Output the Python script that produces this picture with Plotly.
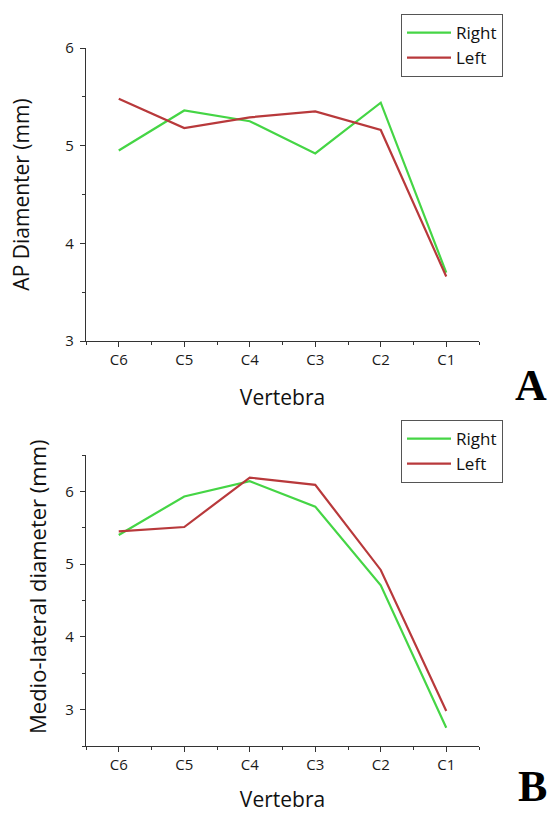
import plotly.graph_objects as go

vertebrae = ["C6", "C5", "C4", "C3", "C2", "C1"]
ap_right = [4.95, 5.36, 5.25, 4.92, 5.44, 3.70]
ap_left = [5.48, 5.18, 5.29, 5.35, 5.16, 3.66]
ml_right = [5.40, 5.93, 6.14, 5.79, 4.71, 2.75]
ml_left = [5.45, 5.51, 6.19, 6.09, 4.92, 2.98]

GREEN = "#45d545"
RED = "#b8393b"
FONT = "Open Sans"
W, H = 550, 813

xpos = list(range(len(vertebrae)))

def py(p):
    return 1 - p / H

fig = go.Figure()
fig.add_trace(go.Scatter(x=xpos, y=ap_right, mode="lines", name="Right",
                         line=dict(color=GREEN, width=2.2), xaxis="x", yaxis="y", legend="legend"))
fig.add_trace(go.Scatter(x=xpos, y=ap_left, mode="lines", name="Left",
                         line=dict(color=RED, width=2.2), xaxis="x", yaxis="y", legend="legend"))
fig.add_trace(go.Scatter(x=xpos, y=ml_right, mode="lines", name="Right",
                         line=dict(color=GREEN, width=2.2), xaxis="x2", yaxis="y2", legend="legend2"))
fig.add_trace(go.Scatter(x=xpos, y=ml_left, mode="lines", name="Left",
                         line=dict(color=RED, width=2.2), xaxis="x2", yaxis="y2", legend="legend2"))

xdom = [86 / W, 479 / W]
axis_common = dict(showline=True, linecolor="#333", linewidth=1.3, showgrid=False,
                   zeroline=False, ticks="outside", ticklen=5, tickwidth=1.2, tickcolor="#333",
                   automargin=False,
                   tickfont=dict(family=FONT, size=15, color="#1a1a1a"))

minor_x = dict(tickvals=[i - 0.5 for i in range(len(vertebrae) + 1)], ticks="outside",
               ticklen=3, tickwidth=1.2, tickcolor="#333", showgrid=False)

xtitle = dict(text="Vertebra", font=dict(family=FONT, size=21, color="#111"), standoff=22)
xtitle2 = dict(text="Vertebra", font=dict(family=FONT, size=21, color="#111"), standoff=23)

legend_common = dict(xanchor="left", yanchor="top", bordercolor="#555", borderwidth=1,
                     bgcolor="white", font=dict(family=FONT, size=17, color="#111"),
                     tracegroupgap=0, itemwidth=44)

fig.update_layout(
    width=W, height=H, margin=dict(l=0, r=0, t=0, b=0, autoexpand=False),
    paper_bgcolor="white", plot_bgcolor="white", showlegend=True,
    xaxis=dict(domain=xdom, anchor="y", range=[-0.5, 5.5], tickmode="array",
               tickvals=xpos, ticktext=vertebrae, minor=minor_x, title=xtitle, **axis_common),
    yaxis=dict(domain=[py(341), py(48)], anchor="x", range=[3, 6], tickmode="array",
               tickvals=[3, 4, 5, 6],
               minor=dict(tickvals=[3.5, 4.5, 5.5], ticks="outside", ticklen=3, tickwidth=1.2,
                          tickcolor="#333", showgrid=False),
               ticklabelstandoff=3,
               title=dict(text="AP Diamenter (mm)", font=dict(family=FONT, size=21, color="#111"),
                          standoff=29),
               **axis_common),
    xaxis2=dict(domain=xdom, anchor="y2", range=[-0.5, 5.5], tickmode="array",
                tickvals=xpos, ticktext=vertebrae, minor=minor_x, title=xtitle2, **axis_common),
    yaxis2=dict(domain=[py(746), py(455)], anchor="x2", range=[2.5, 6.5], tickmode="array",
                tickvals=[3, 4, 5, 6],
                minor=dict(tickvals=[2.5, 3.5, 4.5, 5.5, 6.5], ticks="outside", ticklen=3,
                           tickwidth=1.2, tickcolor="#333", showgrid=False),
                ticklabelstandoff=3,
                **axis_common),
    legend=dict(x=401 / W, y=py(14), **legend_common),
    legend2=dict(x=401 / W, y=py(420), **legend_common),
    annotations=[
        dict(text="Medio-lateral diameter (mm)", x=37 / W, y=py(587), xref="paper",
             yref="paper", showarrow=False, textangle=-90,
             font=dict(family=FONT, size=22, color="#111"), xanchor="center", yanchor="middle"),
        dict(text="<b>A</b>", x=549 / W, y=py(385), xref="paper", yref="paper", showarrow=False,
             font=dict(family="Liberation Serif", size=44, color="black"), xanchor="right",
             yanchor="middle"),
        dict(text="<b>B</b>", x=549 / W, y=py(786), xref="paper", yref="paper", showarrow=False,
             font=dict(family="Liberation Serif", size=44, color="black"), xanchor="right",
             yanchor="middle"),
    ],
)

fig.write_html(
    "out.html",
    config={"displayModeBar": False},
    post_script="document.body.style.margin='0';document.body.style.padding='0';"
                "document.body.style.overflow='hidden';"
                "document.documentElement.style.overflow='hidden';",
)
